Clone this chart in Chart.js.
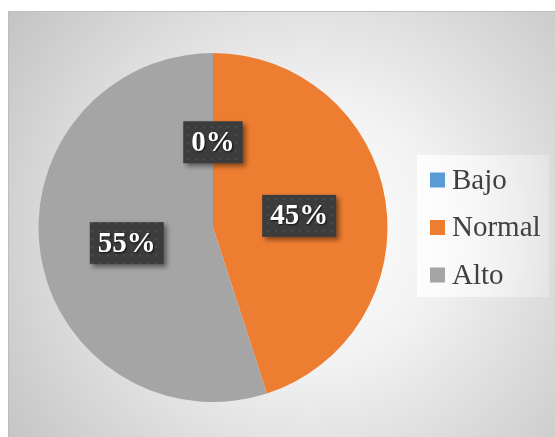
<!DOCTYPE html>
<html>
<head>
<meta charset="utf-8">
<script src="https://cdn.jsdelivr.net/npm/chart.js@4"></script>
<style>
  body { margin: 0; background: #ffffff; }
  #marco {
    position: absolute; left: 8px; top: 11px; width: 547px; height: 426px;
    border-top: 1px solid #bdbdbd; border-left: 1px solid #bdbdbd; box-sizing: border-box;
  }
</style>
</head>
<body>
<div id="marco"><canvas id="chartNivel"></canvas></div>
<script>
// datos del grafico
var categorias = ['Bajo', 'Normal', 'Alto'];
var valores = [0, 45, 55];
var colores = ['#5b9bd5', '#ed7d31', '#a5a5a5'];

// fondo con degradado radial
var fondoPlugin = {
    id: 'fondo',
    beforeDraw: function (chart) {
        var ctx = chart.ctx, w = chart.width, h = chart.height;
        var g = ctx.createRadialGradient(300, 220, 0, 300, 220, 380);
        g.addColorStop(0, '#ffffff');
        g.addColorStop(0.35, '#f2f2f2');
        g.addColorStop(1, '#c2c2c2');
        ctx.save();
        ctx.fillStyle = g;
        ctx.fillRect(0, 0, w, h);
        ctx.restore();
    }
};

// patron de puntos para las etiquetas
function crearPatron(ctx) {
    var p = document.createElement('canvas');
    p.width = 8; p.height = 8;
    var pc = p.getContext('2d');
    pc.fillStyle = '#3c3c3c';
    pc.fillRect(0, 0, 8, 8);
    pc.fillStyle = '#4a4a4a';
    pc.fillRect(2, 2, 2, 2);
    return ctx.createPattern(p, 'repeat');
}

// etiquetas de porcentaje
var etiquetasPlugin = {
    id: 'etiquetas',
    afterDatasetsDraw: function (chart) {
        var ctx = chart.ctx;
        var meta = chart.getDatasetMeta(0);
        var total = valores.reduce(function (a, b) { return a + b; }, 0);
        var patron = crearPatron(ctx);
        ctx.save();
        ctx.font = 'bold 29px "Liberation Serif", "Times New Roman", serif';
        ctx.textAlign = 'center';
        ctx.textBaseline = 'middle';
        meta.data.forEach(function (arc, i) {
            var pos = arc.getCenterPoint();
            var texto = Math.round(valores[i] / total * 100) + '%';
            var tw = ctx.measureText(texto).width;
            var bw = tw + 16, bh = 42;
            ctx.save();
            ctx.shadowColor = 'rgba(0,0,0,0.45)';
            ctx.shadowOffsetX = 3;
            ctx.shadowOffsetY = 3;
            ctx.shadowBlur = 5;
            ctx.fillStyle = patron;
            ctx.fillRect(pos.x - bw / 2, pos.y - bh / 2 + 2, bw, bh);
            ctx.restore();
            ctx.save();
            ctx.shadowColor = 'rgba(0,0,0,0.7)';
            ctx.shadowOffsetX = 1;
            ctx.shadowOffsetY = 1;
            ctx.shadowBlur = 2;
            ctx.fillStyle = '#ffffff';
            ctx.fillText(texto, pos.x, pos.y + 3);
            ctx.restore();
        });
        ctx.restore();
    }
};

// leyenda a la derecha
var leyendaPlugin = {
    id: 'leyenda',
    afterDraw: function (chart) {
        var ctx = chart.ctx;
        var x0 = 408, y0 = 143, w0 = 132, h0 = 142;
        ctx.save();
        var g = ctx.createLinearGradient(x0, 0, x0 + w0, 0);
        g.addColorStop(0, 'rgba(255,255,255,0.85)');
        g.addColorStop(1, 'rgba(255,255,255,0.25)');
        ctx.fillStyle = g;
        ctx.fillRect(x0, y0, w0, h0);
        ctx.font = '29px "Liberation Serif", "Times New Roman", serif';
        ctx.textBaseline = 'middle';
        categorias.forEach(function (c, i) {
            var cy = 168 + i * 47.5;
            ctx.fillStyle = colores[i];
            ctx.fillRect(421, cy - 7.5, 15, 15);
            ctx.fillStyle = '#404040';
            ctx.fillText(c, 443, cy + 1);
        });
        ctx.restore();
    }
};

var ctxNivel = document.getElementById('chartNivel').getContext('2d');
new Chart(ctxNivel, {
    type: 'pie',
    data: {
        labels: categorias,
        datasets: [
            {
                data: valores,
                backgroundColor: colores,
                borderWidth: 0
            }
        ]
    },
    options: {
        responsive: true,
        maintainAspectRatio: false,
        animation: false,
        layout: { padding: { left: 29, top: 41, bottom: 35, right: 167 } },
        plugins: {
            legend: { display: false },
            tooltip: { enabled: false }
        }
    },
    plugins: [fondoPlugin, etiquetasPlugin, leyendaPlugin]
});
</script>
</body>
</html>
